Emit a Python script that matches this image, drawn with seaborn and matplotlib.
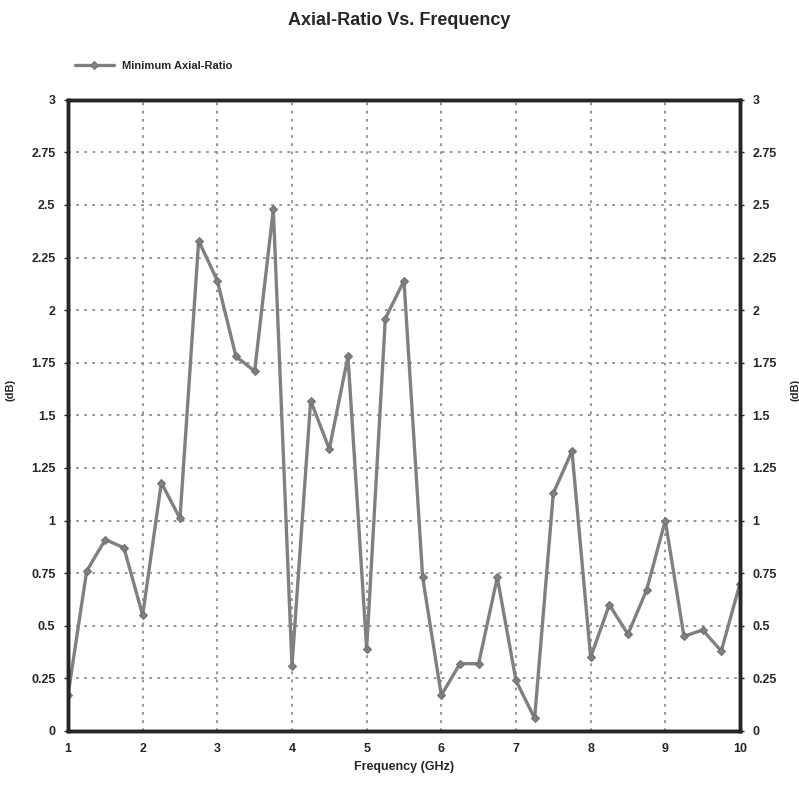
import pandas as pd
import seaborn as sns
import matplotlib
matplotlib.use("Agg")
import matplotlib.pyplot as plt

# 데이터: 주파수 (GHz) 와 최소 축비 (dB)
freq = [1.0, 1.25, 1.5, 1.75, 2.0, 2.25, 2.5, 2.75, 3.0, 3.25, 3.5, 3.75,
        4.0, 4.25, 4.5, 4.75, 5.0, 5.25, 5.5, 5.75, 6.0, 6.25, 6.5, 6.75,
        7.0, 7.25, 7.5, 7.75, 8.0, 8.25, 8.5, 8.75, 9.0, 9.25, 9.5, 9.75, 10.0]
axial_ratio = [0.17, 0.76, 0.91, 0.87, 0.55, 1.18, 1.01, 2.33, 2.14, 1.78, 1.71, 2.48,
               0.31, 1.57, 1.34, 1.78, 0.39, 1.96, 2.14, 0.73, 0.17, 0.32, 0.32, 0.73,
               0.24, 0.06, 1.13, 1.33, 0.35, 0.60, 0.46, 0.67, 1.00, 0.45, 0.48, 0.38, 0.70]
x_ticks = [1, 2, 3, 4, 5, 6, 7, 8, 9, 10]
y_ticks = [0, 0.25, 0.5, 0.75, 1, 1.25, 1.5, 1.75, 2, 2.25, 2.5, 2.75, 3]
y_labels = ["0", "0.25", "0.5", "0.75", "1", "1.25", "1.5", "1.75", "2",
            "2.25", "2.5", "2.75", "3"]
series_name = "Minimum Axial-Ratio"

sns.set_style("white")
plt.rcParams["font.family"] = ["Liberation Sans", "DejaVu Sans"]
plt.rcParams["font.weight"] = "bold"

df = pd.DataFrame({"freq": freq, "ar": axial_ratio})

fig = plt.figure(figsize=(7.99, 7.93), dpi=100)
ax = fig.add_axes([0.0851, 0.0782, 0.841, 0.796])

sns.lineplot(data=df, x="freq", y="ar", ax=ax, color="#808080", linewidth=2.4,
             marker="D", markersize=4, markeredgecolor="#6e6e6e",
             label=series_name, legend=False)

ax.set_xlim(1, 10)
ax.set_ylim(0, 3)
ax.set_xticks(x_ticks)
ax.set_xticklabels([str(t) for t in x_ticks])
ax.set_yticks(y_ticks)
ax.set_yticklabels(y_labels)
ax.grid(True, linestyle=(0, (1.5, 3)), color="#8c8c8c", linewidth=1.3)
for s in ax.spines.values():
    s.set_linewidth(2.5)
    s.set_color("black")
ax.tick_params(axis="both", labelsize=9, length=3, width=1, pad=6)
for lbl in ax.get_xticklabels() + ax.get_yticklabels():
    lbl.set_fontweight("bold")
ax.set_xlabel("Frequency (GHz)", fontsize=9, fontweight="bold", labelpad=4)
ax.set_ylabel("(dB)", fontsize=8, fontweight="bold", labelpad=8)
ax.yaxis.set_label_coords(-0.078, 0.54)

ax2 = ax.twinx()
ax2.set_ylim(0, 3)
ax2.set_yticks(y_ticks)
ax2.set_yticklabels(y_labels)
ax2.tick_params(axis="y", labelsize=9, length=3, width=1, pad=6)
for lbl in ax2.get_yticklabels():
    lbl.set_fontweight("bold")
ax2.set_ylabel("(dB)", fontsize=8, fontweight="bold", rotation=90)
ax2.yaxis.set_label_coords(1.075, 0.54)
for s in ax2.spines.values():
    s.set_linewidth(2.5)

ax.legend(loc="lower left", bbox_to_anchor=(-0.005, 1.03), frameon=False,
          handlelength=3.5, prop={"weight": "bold", "size": 8})

fig.suptitle("Axial-Ratio Vs. Frequency", x=0.5, y=0.985, fontsize=13,
             fontweight="bold")

fig.savefig("out.png", dpi=100)
